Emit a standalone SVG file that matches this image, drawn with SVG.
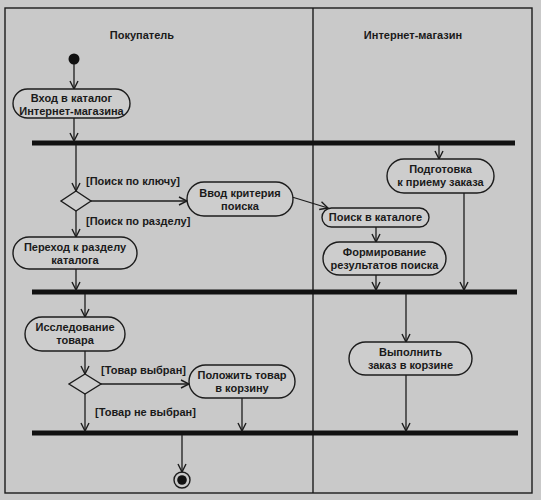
<svg xmlns="http://www.w3.org/2000/svg" width="541" height="500" viewBox="0 0 541 500">
<defs>
<style>
.bg{fill:#c9c9c9}
.frame{fill:none;stroke:#1c1c1c;stroke-width:1.4}
.act{fill:#cdcdcd;stroke:#1c1c1c;stroke-width:1.4}
.bar{stroke:#111;stroke-width:5}
.c{fill:none;stroke:#1c1c1c;stroke-width:1.3}
.t{font-family:"Liberation Sans",Arial,sans-serif;font-size:11px;font-weight:bold;fill:#1a1a1a;text-anchor:middle}
.g{font-family:"Liberation Sans",Arial,sans-serif;font-size:11px;font-weight:bold;fill:#1a1a1a}
</style>
<marker id="a" viewBox="0 0 10 10" refX="9" refY="5" markerWidth="10" markerHeight="10" markerUnits="userSpaceOnUse" orient="auto">
<path d="M1,1 L9,5 L1,9" fill="none" stroke="#1c1c1c" stroke-width="1.4"/>
</marker>
</defs>
<rect class="bg" x="0" y="0" width="541" height="500"/>
<g id="swimlanes">
<rect class="frame" x="5" y="8" width="527" height="485"/>
<line class="frame" x1="313" y1="8" x2="313" y2="493"/>
<text class="t" x="142" y="39">Покупатель</text>
<text class="t" x="413" y="39">Интернет-магазин</text>
</g>
<g id="bars">
<line class="bar" x1="32" y1="143" x2="515" y2="143"/>
<line class="bar" x1="32" y1="292" x2="517" y2="292"/>
<line class="bar" x1="32" y1="433" x2="518" y2="433"/>
</g>
<g id="connectors">
<line class="c" x1="74" y1="64" x2="74" y2="89" marker-end="url(#a)"/>
<line class="c" x1="74" y1="118" x2="74" y2="141" marker-end="url(#a)"/>
<line class="c" x1="76" y1="145" x2="76" y2="191" marker-end="url(#a)"/>
<line class="c" x1="91" y1="201" x2="187" y2="201" marker-end="url(#a)"/>
<line class="c" x1="76" y1="211" x2="76" y2="237" marker-end="url(#a)"/>
<line class="c" x1="76" y1="269" x2="76" y2="290" marker-end="url(#a)"/>
<line class="c" x1="292" y1="197" x2="328" y2="208" marker-end="url(#a)"/>
<line class="c" x1="439" y1="145" x2="439" y2="159" marker-end="url(#a)"/>
<line class="c" x1="464" y1="193" x2="464" y2="290" marker-end="url(#a)"/>
<line class="c" x1="376" y1="227" x2="376" y2="242" marker-end="url(#a)"/>
<line class="c" x1="376" y1="275" x2="376" y2="290" marker-end="url(#a)"/>
<line class="c" x1="406" y1="294" x2="406" y2="342" marker-end="url(#a)"/>
<line class="c" x1="406" y1="375" x2="406" y2="431" marker-end="url(#a)"/>
<line class="c" x1="85" y1="294" x2="85" y2="317" marker-end="url(#a)"/>
<line class="c" x1="85" y1="351" x2="85" y2="374" marker-end="url(#a)"/>
<line class="c" x1="101" y1="384" x2="189" y2="384" marker-end="url(#a)"/>
<line class="c" x1="85" y1="394" x2="85" y2="431" marker-end="url(#a)"/>
<line class="c" x1="242" y1="398" x2="242" y2="431" marker-end="url(#a)"/>
<line class="c" x1="182" y1="435" x2="182" y2="472" marker-end="url(#a)"/>
<text class="g" x="86" y="185">[Поиск по ключу]</text>
<text class="g" x="86" y="225">[Поиск по разделу]</text>
<text class="g" x="101" y="374">[Товар выбран]</text>
<text class="g" x="95" y="416">[Товар не выбран]</text>
</g>
<g id="start"><circle cx="74" cy="59" r="5.5" fill="#111"/></g>
<g id="end"><circle cx="182" cy="480" r="8" fill="none" stroke="#1c1c1c" stroke-width="1.4"/><circle cx="182" cy="480" r="4.8" fill="#111"/></g>
<g id="n1"><rect class="act" x="13" y="89" width="117" height="29" rx="14.5"/><text class="t" x="71.5" y="102">Вход в каталог</text><text class="t" x="71.5" y="115">Интернет-магазина</text></g>
<g id="d1"><polygon class="act" points="76,191 91,201 76,211 61,201"/></g>
<g id="n2"><rect class="act" x="187" y="182" width="106" height="34" rx="17"/><text class="t" x="240" y="197">Ввод критерия</text><text class="t" x="240" y="210">поиска</text></g>
<g id="n3"><rect class="act" x="13" y="237" width="124" height="32" rx="16"/><text class="t" x="75" y="251">Переход к разделу</text><text class="t" x="75" y="264">каталога</text></g>
<g id="n4"><rect class="act" x="387" y="159" width="107" height="34" rx="17"/><text class="t" x="440.5" y="173">Подготовка</text><text class="t" x="440.5" y="186">к приему заказа</text></g>
<g id="n5"><rect class="act" x="322" y="208" width="107" height="19" rx="9.5"/><text class="t" x="375.5" y="221">Поиск в каталоге</text></g>
<g id="n6"><rect class="act" x="323" y="242" width="123" height="33" rx="16.5"/><text class="t" x="384.5" y="256">Формирование</text><text class="t" x="384.5" y="269">результатов поиска</text></g>
<g id="n7"><rect class="act" x="25" y="317" width="100" height="34" rx="17"/><text class="t" x="75" y="331">Исследование</text><text class="t" x="75" y="344">товара</text></g>
<g id="d2"><polygon class="act" points="85,374 101,384 85,394 69,384"/></g>
<g id="n8"><rect class="act" x="189" y="365" width="106" height="33" rx="16.5"/><text class="t" x="242" y="379">Положить товар</text><text class="t" x="242" y="392">в корзину</text></g>
<g id="n9"><rect class="act" x="349" y="342" width="123" height="33" rx="16.5"/><text class="t" x="410.5" y="356">Выполнить</text><text class="t" x="410.5" y="369">заказ в корзине</text></g>
</svg>
